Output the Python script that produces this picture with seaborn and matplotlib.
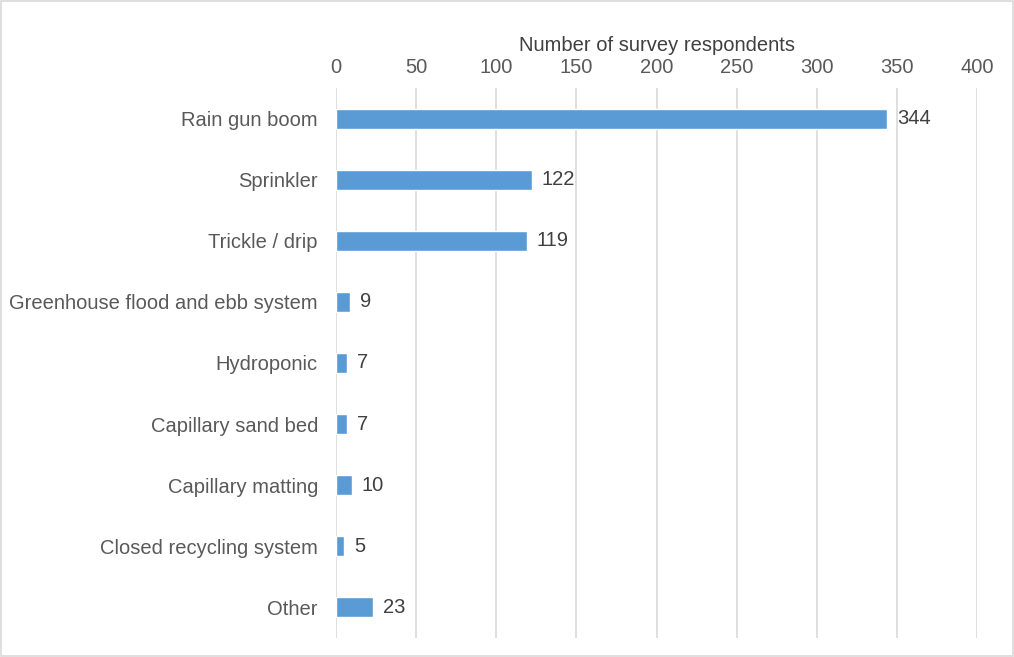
import matplotlib
matplotlib.use("Agg")
import matplotlib.pyplot as plt
import seaborn as sns
import pandas as pd

categories = [
    "Rain gun boom",
    "Sprinkler",
    "Trickle / drip",
    "Greenhouse flood and ebb system",
    "Hydroponic",
    "Capillary sand bed",
    "Capillary matting",
    "Closed recycling system",
    "Other",
]
respondents = [344, 122, 119, 9, 7, 7, 10, 5, 23]
x_ticks = [0, 50, 100, 150, 200, 250, 300, 350, 400]

df = pd.DataFrame({"category": categories, "respondents": respondents})

sns.set_theme(style="white")
plt.rcParams["font.family"] = ["Liberation Sans", "DejaVu Sans"]

fig = plt.figure(figsize=(10.14, 6.57), dpi=100)
ax = fig.add_axes([0.3314, 0.029, 0.6321, 0.837])

sns.barplot(data=df, x="respondents", y="category", orient="h",
            color="#5B9BD5", width=0.33, ax=ax, saturation=1)

ax.set_xlim(0, 400)
ax.set_ylim(8.5, -0.5)
ax.set_xticks(x_ticks)
ax.xaxis.tick_top()
ax.xaxis.set_label_position("top")
ax.set_xlabel("Number of survey respondents", fontsize=14.5, color="#404040", labelpad=5)
ax.set_ylabel("")
ax.tick_params(axis="x", labelsize=14.5, colors="#595959", length=0, pad=8)
ax.tick_params(axis="y", labelsize=14.5, colors="#595959", length=0, pad=13)
ax.grid(axis="x", color="#D9D9D9", linewidth=1.2)
ax.set_axisbelow(True)
for s in ax.spines.values():
    s.set_visible(False)

for c in ax.containers:
    ax.bar_label(c, labels=[str(v) for v in respondents], padding=7,
                 fontsize=14.5, color="#404040")

# light border round the whole figure
fig.patches.append(plt.Rectangle((0.001, 0.001), 0.998, 0.998, transform=fig.transFigure,
                                 fill=False, edgecolor="#D9D9D9", linewidth=1.2))

fig.savefig("out.png", dpi=100)
